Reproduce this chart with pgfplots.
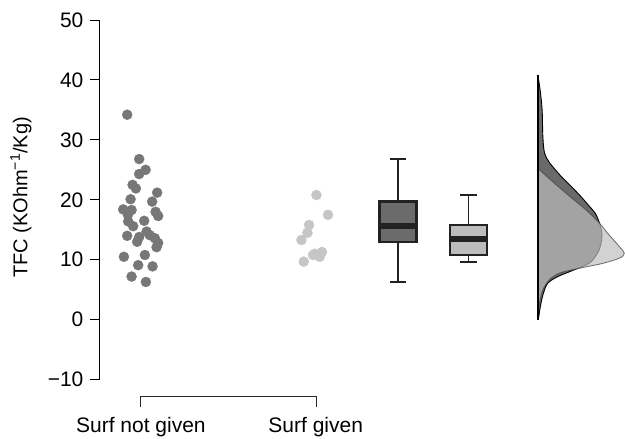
\documentclass[border=0pt]{standalone}
\usepackage{fontspec}
\setmainfont{Liberation Sans}
\usepackage{pgfplots}
\pgfplotsset{compat=1.18}
\definecolor{darkpt}{HTML}{777777}
\definecolor{lightpt}{HTML}{C6C6C6}
\definecolor{darkbox}{HTML}{6B6B6B}
\definecolor{lightbox}{HTML}{BDBDBD}
\definecolor{boxline}{HTML}{222222}
\definecolor{densdark}{HTML}{6A6A6A}
\definecolor{denslight}{HTML}{BEBEBE}
\begin{document}
\begin{tikzpicture}
\begin{axis}[
  scale only axis, width=525pt, height=360pt,
  xmin=100, xmax=625, ymin=-10, ymax=50,
  clip=false,
  axis x line=none, axis y line*=left,
  y axis line style={line width=0.9pt},
  ytick={-10,0,10,20,30,40,50},
  yticklabels={−10,0,10,20,30,40,50},
  tick align=outside, major tick length=10pt,
  ytick style={line width=0.9pt, black},
  yticklabel style={font=\fontsize{21}{21}\selectfont, xshift=-3pt},
  ylabel={TFC (KOhm\textsuperscript{−1}/Kg)},
  ylabel style={font=\fontsize{20}{20}\selectfont, at={(axis description cs:-0.1505,0.507)}, anchor=center},
]
% invisible frame giving the picture its size
\path (axis cs:0,53.333) rectangle (axis cs:625,-19.833);

% Surf not given points
\addplot[only marks, mark=*, mark size=5pt, draw=darkpt, fill=darkpt, mark options={draw=darkpt, fill=darkpt}] coordinates {
(127.3,34.2)(139.3,26.8)(145.7,25.0)(139.3,24.3)(132.7,22.5)(136,21.9)(157.3,21.2)(130.7,20.1)(152.3,19.7)(123.3,18.4)(131.7,18.3)(128,17.5)(155.7,18.0)(158.3,17.3)(144.3,16.5)(128.3,16.4)(133.3,15.6)(146.7,14.7)(127.3,14.0)(139.3,13.8)(150,14.1)(137.3,13.0)(155,13.6)(158.3,12.8)(156.7,12.1)(124,10.5)(145,10.8)(138.3,9.1)(152.7,8.9)(131.7,7.2)(146,6.3)
};
% Surf given points
\addplot[only marks, mark=*, mark size=5pt, draw=lightpt, fill=lightpt, mark options={draw=lightpt, fill=lightpt}] coordinates {
(316.7,20.8)(328.3,17.5)(309.3,15.8)(307.7,14.5)(301.7,13.3)(315,11.0)(322.3,11.3)(320,10.5)(313.3,10.8)(304,9.7)
};

% box plot: Surf not given (whiskers, box, median)
\addplot[boxline, line width=1.6pt] coordinates {(398.5,19.7)(398.5,26.8)};
\addplot[boxline, line width=1.6pt] coordinates {(390.2,26.8)(406.8,26.8)};
\addplot[boxline, line width=1.6pt] coordinates {(398.5,13.0)(398.5,6.3)};
\addplot[boxline, line width=1.6pt] coordinates {(390.2,6.3)(406.8,6.3)};
\addplot[fill=darkbox, draw=boxline, line width=2.5pt, line join=miter] coordinates {(380,13.0)(417,13.0)(417,19.7)(380,19.7)(380,13.0)(417,13.0)};
\addplot[boxline, line width=6pt] coordinates {(380,15.7)(417,15.7)};

% box plot: Surf given
\addplot[boxline, line width=1.6pt] coordinates {(469,15.8)(469,20.8)};
\addplot[boxline, line width=1.6pt] coordinates {(460.7,20.8)(477.3,20.8)};
\addplot[boxline, line width=1.6pt] coordinates {(469,10.8)(469,9.6)};
\addplot[boxline, line width=1.6pt] coordinates {(460.7,9.6)(477.3,9.6)};
\addplot[fill=lightbox, draw=boxline, line width=2.5pt, line join=miter] coordinates {(450.5,10.8)(487.5,10.8)(487.5,15.8)(450.5,15.8)(450.5,10.8)(487.5,10.8)};
\addplot[boxline, line width=6pt] coordinates {(450.5,13.4)(487.5,13.4)};

% densities
\addplot[smooth, tension=0.5, fill=densdark, draw=black, line width=0.9pt] coordinates {
(538.8,0)(540.8,2.2)(543.8,4.4)(548.3,6.1)(558.3,7.2)(574.3,8.3)(590.3,9.5)(598.3,11.2)(601.8,12.9)(602.3,14.5)(600,16.1)(596,17.7)(590,18.9)(580,20.8)(570,22.5)(560,24.2)(550,26.2)(545,27.8)(543.3,30.6)(542.6,35)(540.6,38.3)(538.3,40.8)
};
\addplot[smooth, tension=0.5, fill=denslight, fill opacity=0.69, draw=black!75, draw opacity=0.69, line width=0.9pt] coordinates {
(538.6,0.3)(540,2.8)(543.3,5)(550,6.7)(560.3,7.8)(580.3,8.6)(603.3,9.4)(620.3,10.3)(624.8,11.1)(618.3,12.5)(608.3,14.4)(600,16.1)(586.6,18.3)(570,20.6)(553.3,23)(540,25)(538.3,25.5)
};
\addplot[black, line width=1.3pt] coordinates {(538.3,0)(538.3,40.8)};

% category bracket and labels
\draw[black!85, line width=0.9pt] (axis cs:141,-14.5) -- (axis cs:141,-12.83) -- (axis cs:317,-12.83) -- (axis cs:317,-14.5);
\node[anchor=base, font=\fontsize{21}{21}\selectfont, inner sep=0pt] at (axis cs:141,-18.83) {Surf not given};
\node[anchor=base, font=\fontsize{21}{21}\selectfont, inner sep=0pt] at (axis cs:316,-18.83) {Surf given};
\end{axis}
\end{tikzpicture}
\end{document}
